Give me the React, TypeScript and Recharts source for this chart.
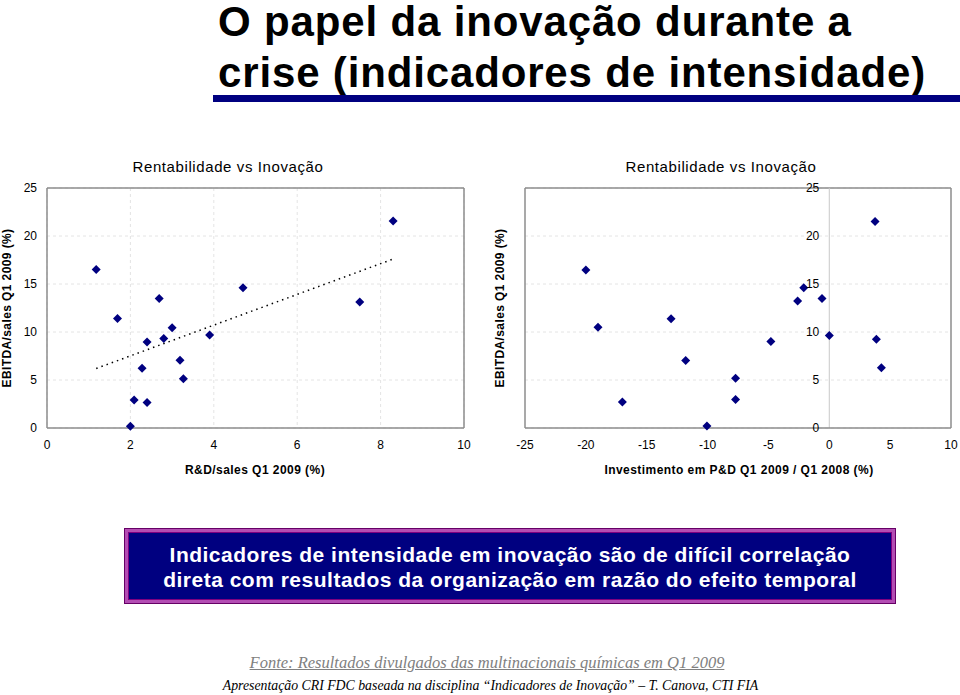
import React from "react";
import {
  ScatterChart,
  Scatter,
  XAxis,
  YAxis,
  CartesianGrid,
  ReferenceLine,
  ReferenceDot,
} from "recharts";

// ---------------------------------------------------------------------------
// Data
// ---------------------------------------------------------------------------

// Left chart: R&D/sales Q1 2009 (%) vs EBITDA/sales Q1 2009 (%)
const rdSales = [1.18, 1.69, 2.69, 2.4, 2.8, 3.0, 2.28, 3.19, 3.27, 2.09, 2.4, 2.0, 3.9, 4.7, 7.5, 8.3];
const ebitdaLeft = [16.5, 11.4, 13.5, 8.95, 9.33, 10.45, 6.23, 7.07, 5.12, 2.92, 2.65, 0.17, 9.68, 14.62, 13.13, 21.55];

// Right chart: Investimento em P&D Q1 2009 / Q1 2008 (%) vs EBITDA/sales
const rdGrowth = [-20.0, -19.0, -17.0, -13.0, -11.8, -10.05, -7.7, -7.7, -4.8, -2.6, -2.1, -0.6, 0.0, 3.76, 3.87, 4.28];
const ebitdaRight = [16.45, 10.5, 2.72, 11.38, 7.02, 0.21, 5.17, 2.97, 9.01, 13.23, 14.6, 13.48, 9.64, 21.5, 9.25, 6.28];

// Linear trend line (left chart), end points
const trendX = [1.18, 8.3];
const trendY = [6.2, 17.6];

const leftXTicks = [0, 2, 4, 6, 8, 10];
const rightXTicks = [-25, -20, -15, -10, -5, 0, 5, 10];
const yTicks = [0, 5, 10, 15, 20, 25];

const leftData = rdSales.map((x, i) => ({ x, y: ebitdaLeft[i] }));
const rightData = rdGrowth.map((x, i) => ({ x, y: ebitdaRight[i] }));

// ---------------------------------------------------------------------------
// Helpers
// ---------------------------------------------------------------------------

const NAVY = "#000080";
const BORDER = "#8c8c8c";
const tickStyle = { fontSize: 12, fill: "#000", fontFamily: "'Liberation Sans', Arial, sans-serif" };

function Diamond(props: any) {
  const { cx, cy } = props;
  const r = 4.5;
  return (
    <polygon
      points={`${cx},${cy - r} ${cx + r},${cy} ${cx},${cy + r} ${cx - r},${cy}`}
      fill={NAVY}
    />
  );
}

// ---------------------------------------------------------------------------
// Component
// ---------------------------------------------------------------------------

export default function App() {
  return (
    <div style={styles.page}>
      <div style={{ ...styles.title, top: 0 }}>O papel da inovação durante a</div>
      <div style={{ ...styles.title, top: 51 }}>crise (indicadores de intensidade)</div>
      <div style={styles.titleBar} />

      {/* chart titles and axis labels */}
      <div style={{ ...styles.chartTitle, left: 128 }}>Rentabilidade vs Inovação</div>
      <div style={{ ...styles.chartTitle, left: 621 }}>Rentabilidade vs Inovação</div>
      <div style={{ ...styles.yLabel, left: 7 }}>EBITDA/sales Q1 2009 (%)</div>
      <div style={{ ...styles.yLabel, left: 500 }}>EBITDA/sales Q1 2009 (%)</div>
      <div style={{ ...styles.xLabel, left: 105 }}>R&amp;D/sales Q1 2009 (%)</div>
      <div style={{ ...styles.xLabel, left: 539, width: 400 }}>
        Investimento em P&amp;D Q1 2009 / Q1 2008 (%)
      </div>

      {/* left chart */}
      <div style={{ position: "absolute", left: 0, top: 150 }}>
        <ScatterChart width={480} height={340} margin={{ top: 38, right: 16, bottom: 32, left: 17 }}>
          <CartesianGrid strokeDasharray="3 3" stroke="#e4e4e4" />
          <XAxis
            type="number"
            dataKey="x"
            domain={[0, 10]}
            ticks={leftXTicks}
            tickLine={false}
            tickMargin={6}
            axisLine={{ stroke: BORDER, strokeWidth: 1.5 }}
            tick={tickStyle}
            height={30}
          />
          <YAxis
            type="number"
            dataKey="y"
            domain={[0, 25]}
            ticks={yTicks}
            tickLine={false}
            tickMargin={4}
            axisLine={{ stroke: BORDER, strokeWidth: 1.5 }}
            tick={tickStyle}
            width={30}
          />
          <ReferenceLine y={25} stroke={BORDER} strokeWidth={1.5} />
          <ReferenceLine x={10} stroke={BORDER} strokeWidth={1.5} />
          <ReferenceLine
            segment={[
              { x: trendX[0], y: trendY[0] },
              { x: trendX[1], y: trendY[1] },
            ]}
            stroke="#000"
            strokeWidth={1.5}
            strokeDasharray="1.5 4"
          />
          <Scatter data={leftData} shape={Diamond} isAnimationActive={false} />
        </ScatterChart>
      </div>

      {/* right chart */}
      <div style={{ position: "absolute", left: 480, top: 150 }}>
        <ScatterChart width={480} height={340} margin={{ top: 38, right: 9, bottom: 32, left: 45 }}>
          <CartesianGrid strokeDasharray="3 3" stroke="#e4e4e4" vertical={false} />
          <XAxis
            type="number"
            dataKey="x"
            domain={[-25, 10]}
            ticks={rightXTicks}
            tickLine={false}
            tickMargin={6}
            axisLine={{ stroke: BORDER, strokeWidth: 1.5 }}
            tick={tickStyle}
            height={30}
          />
          <YAxis type="number" dataKey="y" domain={[0, 25]} ticks={yTicks} hide />
          <ReferenceLine y={25} stroke={BORDER} strokeWidth={1.5} />
          <ReferenceLine x={-25} stroke={BORDER} strokeWidth={1.5} />
          <ReferenceLine x={10} stroke={BORDER} strokeWidth={1.5} />
          <ReferenceLine x={0} stroke="#c8c8c8" strokeWidth={1} />
          {yTicks.map((t) => (
            <ReferenceDot
              key={t}
              x={0}
              y={t}
              r={0}
              fill="none"
              stroke="none"
              label={{ value: String(t), position: "left", offset: 10, ...tickStyle }}
            />
          ))}
          <Scatter data={rightData} shape={Diamond} isAnimationActive={false} />
        </ScatterChart>
      </div>

      {/* message box */}
      <div style={styles.boxOuter}>
        <div style={styles.boxInner}>
          Indicadores de intensidade em inovação são de difícil correlação
          <br />
          direta com resultados da organização em razão do efeito temporal
        </div>
      </div>

      <div style={styles.source}>Fonte: Resultados divulgados das multinacionais químicas em Q1 2009</div>
      <div style={styles.credit}>
        Apresentação CRI FDC baseada na disciplina “Indicadores de Inovação” – T. Canova, CTI FIA
      </div>
    </div>
  );
}

// ---------------------------------------------------------------------------
// Inline styles
// ---------------------------------------------------------------------------

const styles = {
  page: {
    position: "absolute",
    left: 0,
    top: 0,
    width: 960,
    height: 695,
    background: "#fff",
    overflow: "hidden",
    fontFamily: "'Liberation Sans', Arial, sans-serif",
  },
  title: {
    position: "absolute",
    left: 218,
    fontWeight: 700,
    fontSize: 42,
    lineHeight: "44px",
    letterSpacing: "0.85px",
    color: "#000",
    whiteSpace: "nowrap",
  },
  titleBar: {
    position: "absolute",
    left: 213,
    top: 95,
    width: 747,
    height: 7,
    background: NAVY,
  },
  chartTitle: {
    position: "absolute",
    top: 158,
    width: 200,
    textAlign: "center",
    fontSize: 15,
    letterSpacing: "0.6px",
    color: "#000",
  },
  yLabel: {
    position: "absolute",
    top: 300,
    width: 200,
    marginLeft: -100,
    textAlign: "center",
    fontSize: 12,
    fontWeight: 700,
    letterSpacing: "0.4px",
    lineHeight: "16px",
    transform: "rotate(-90deg)",
    color: "#000",
  },
  xLabel: {
    position: "absolute",
    top: 463,
    width: 300,
    textAlign: "center",
    fontSize: 12,
    fontWeight: 700,
    letterSpacing: "0.45px",
    color: "#000",
  },
  boxOuter: {
    position: "absolute",
    left: 124,
    top: 528,
    width: 772,
    height: 76,
    boxSizing: "border-box",
    border: "1px solid #660066",
    background: "#b34db3",
    padding: 3,
  },
  boxInner: {
    width: "100%",
    height: "100%",
    boxSizing: "border-box",
    background: NAVY,
    border: "1px solid #800080",
    color: "#fff",
    fontSize: 21,
    fontWeight: 700,
    letterSpacing: "0.5px",
    lineHeight: "25px",
    textAlign: "center",
    paddingTop: 9,
    whiteSpace: "nowrap",
  },
  source: {
    position: "absolute",
    left: 0,
    width: 974,
    top: 653,
    textAlign: "center",
    fontFamily: "'Liberation Serif', 'Times New Roman', serif",
    fontStyle: "italic",
    fontSize: 16.5,
    color: "#808080",
    textDecoration: "underline",
  },
  credit: {
    position: "absolute",
    left: 0,
    width: 981,
    top: 678,
    textAlign: "center",
    fontFamily: "'Liberation Serif', 'Times New Roman', serif",
    fontStyle: "italic",
    fontSize: 13.8,
    color: "#000",
    whiteSpace: "nowrap",
  },
} satisfies Record<string, React.CSSProperties>;
